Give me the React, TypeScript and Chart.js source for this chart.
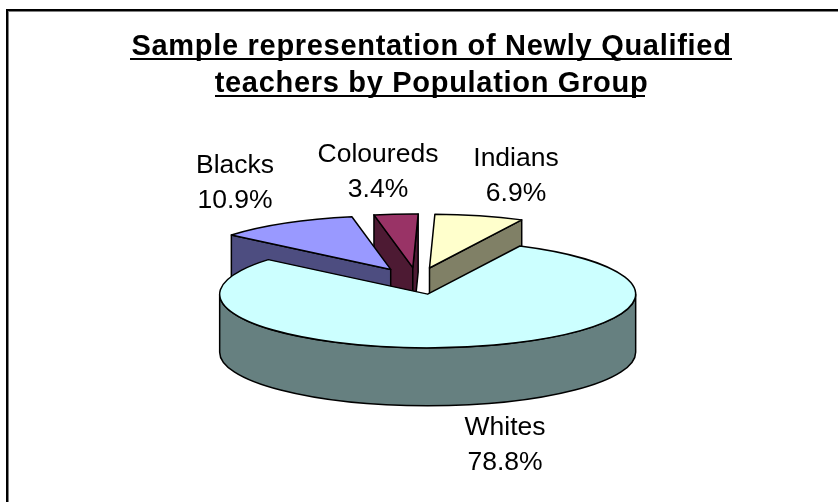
import React, { useEffect, useRef } from "react";
import { Chart, registerables } from "chart.js";

Chart.register(...registerables);

const categories = ["Blacks", "Coloureds", "Indians", "Whites"];
const shares = [10.9, 3.4, 6.9, 78.8];
const titleLines = ["Sample representation of Newly Qualified", "teachers by Population Group"];
const topColors = ["#9999FF", "#993366", "#FFFFCC", "#CCFFFF"];
const wallColors = ["#4D4D80", "#4D1A33", "#808066", "#668080"];

const FONT = "'Liberation Sans', Arial, sans-serif";
const PIE_X = 417;
const PIE_Y = 281;
const TILT = 0.258;
const DEPTH = 58;
const EXPLODE = 52;
const RADIUS = 208;
const WALL_ORDER = [1, 0, 2, 3];
const LABEL_AT = [
  [235, 173],
  [378, 162],
  [516, 166],
  [505, 435],
];

let baseX = 0;
let baseY = 0;

function geom(el: any) {
  return {
    cx: PIE_X + (el.x - baseX),
    cy: PIE_Y + (el.y - baseY) * TILT,
    r: el.outerRadius,
  };
}

const pie3d = {
  id: "pie3d",
  afterDatasetsUpdate(chart: any) {
    // explode the slices: each arc moves out along its own middle angle
    chart.getDatasetMeta(0).data.forEach((el: any) => {
      baseX = el.x;
      baseY = el.y;
      const mid = (el.startAngle + el.endAngle) / 2;
      el.x = baseX + Math.cos(mid) * EXPLODE;
      el.y = baseY + Math.sin(mid) * EXPLODE;
    });
  },
  beforeDraw(chart: any) {
    const ctx = chart.ctx;
    ctx.save();
    ctx.fillStyle = "#ffffff";
    ctx.fillRect(0, 0, chart.width, chart.height);
    ctx.fillStyle = "#000000";
    ctx.fillRect(6, 9, chart.width - 6, 2);
    ctx.fillRect(6, 9, 2, chart.height - 9);
    ctx.fillStyle = "#808080";
    ctx.fillRect(8, 11, chart.width - 8, 1);
    ctx.fillRect(8, 11, 1, chart.height - 11);
    ctx.restore();
    ctx.letterSpacing = "0.7px";
  },
  beforeDatasetsDraw(chart: any) {
    const ctx = chart.ctx;
    ctx.letterSpacing = "0px";
    const arcs = chart.getDatasetMeta(0).data;
    ctx.save();
    ctx.strokeStyle = "#000000";
    ctx.lineWidth = 1.5;
    ctx.lineJoin = "round";
    WALL_ORDER.forEach((i: number) => {
      const el = arcs[i];
      const g = geom(el);
      ctx.fillStyle = wallColors[i];
      const face = (a: number) => {
        const ex = g.cx + g.r * Math.cos(a);
        const ey = g.cy + g.r * TILT * Math.sin(a);
        ctx.beginPath();
        ctx.moveTo(g.cx, g.cy);
        ctx.lineTo(ex, ey);
        ctx.lineTo(ex, ey + DEPTH);
        ctx.lineTo(g.cx, g.cy + DEPTH);
        ctx.closePath();
        ctx.fill();
        ctx.stroke();
      };
      if (-Math.cos(el.startAngle) > 0) face(el.startAngle);
      if (Math.cos(el.endAngle) > 0) face(el.endAngle);
      for (const n of [0, 1]) {
        const lo = Math.max(el.startAngle, n * 2 * Math.PI);
        const hi = Math.min(el.endAngle, n * 2 * Math.PI + Math.PI);
        if (hi > lo) {
          ctx.beginPath();
          ctx.ellipse(g.cx, g.cy, g.r, g.r * TILT, 0, lo, hi);
          ctx.ellipse(g.cx, g.cy + DEPTH, g.r, g.r * TILT, 0, hi, lo, true);
          ctx.closePath();
          ctx.fill();
          ctx.stroke();
        }
      }
    });
    ctx.restore();
    // the library's arcs are the slice tops, seen through the tilt
    ctx.save();
    ctx.translate(PIE_X, PIE_Y);
    ctx.scale(1, TILT);
    ctx.translate(-baseX, -baseY);
  },
  afterDatasetsDraw(chart: any) {
    const ctx = chart.ctx;
    ctx.restore();
    const arcs = chart.getDatasetMeta(0).data;
    ctx.save();
    ctx.strokeStyle = "#000000";
    ctx.lineWidth = 1.5;
    ctx.lineJoin = "round";
    arcs.forEach((el: any) => {
      const g = geom(el);
      ctx.beginPath();
      ctx.moveTo(g.cx, g.cy);
      ctx.ellipse(g.cx, g.cy, g.r, g.r * TILT, 0, el.startAngle, el.endAngle);
      ctx.closePath();
      ctx.stroke();
    });
    ctx.fillStyle = "#000000";
    ctx.font = `26.5px ${FONT}`;
    ctx.textAlign = "center";
    ctx.textBaseline = "alphabetic";
    categories.forEach((name, i) => {
      const [x, y] = LABEL_AT[i];
      ctx.fillText(name, x, y);
      ctx.fillText(`${shares[i].toFixed(1)}%`, x, y + 35);
    });
    ctx.fillRect(130, 58, 602, 2);
    ctx.fillRect(215, 95, 430, 2);
    ctx.restore();
  },
};

export default function App() {
  const ref = useRef<HTMLCanvasElement>(null);
  useEffect(() => {
    const chart = new Chart(ref.current as HTMLCanvasElement, {
      type: "pie",
      data: {
        labels: categories,
        datasets: [
          {
            data: shares,
            backgroundColor: topColors,
            borderWidth: 0,
            clip: false,
          } as any,
        ],
      },
      options: {
        animation: false,
        responsive: false,
        rotation: 310,
        radius: RADIUS,
        layout: { padding: { left: 25, top: 28 } },
        plugins: {
          legend: { display: false },
          tooltip: { enabled: false },
          title: {
            display: true,
            text: titleLines,
            color: "#000000",
            font: { family: FONT, size: 29, weight: "bold", lineHeight: 1.28 },
            padding: 0,
          },
        },
      },
      plugins: [pie3d],
    } as any);
    return () => chart.destroy();
  }, []);
  return (
    <div style={{ position: "absolute", left: 0, top: 0, width: 838, height: 502 }}>
      <canvas ref={ref} width={838} height={502} style={{ display: "block" }} />
    </div>
  );
}
